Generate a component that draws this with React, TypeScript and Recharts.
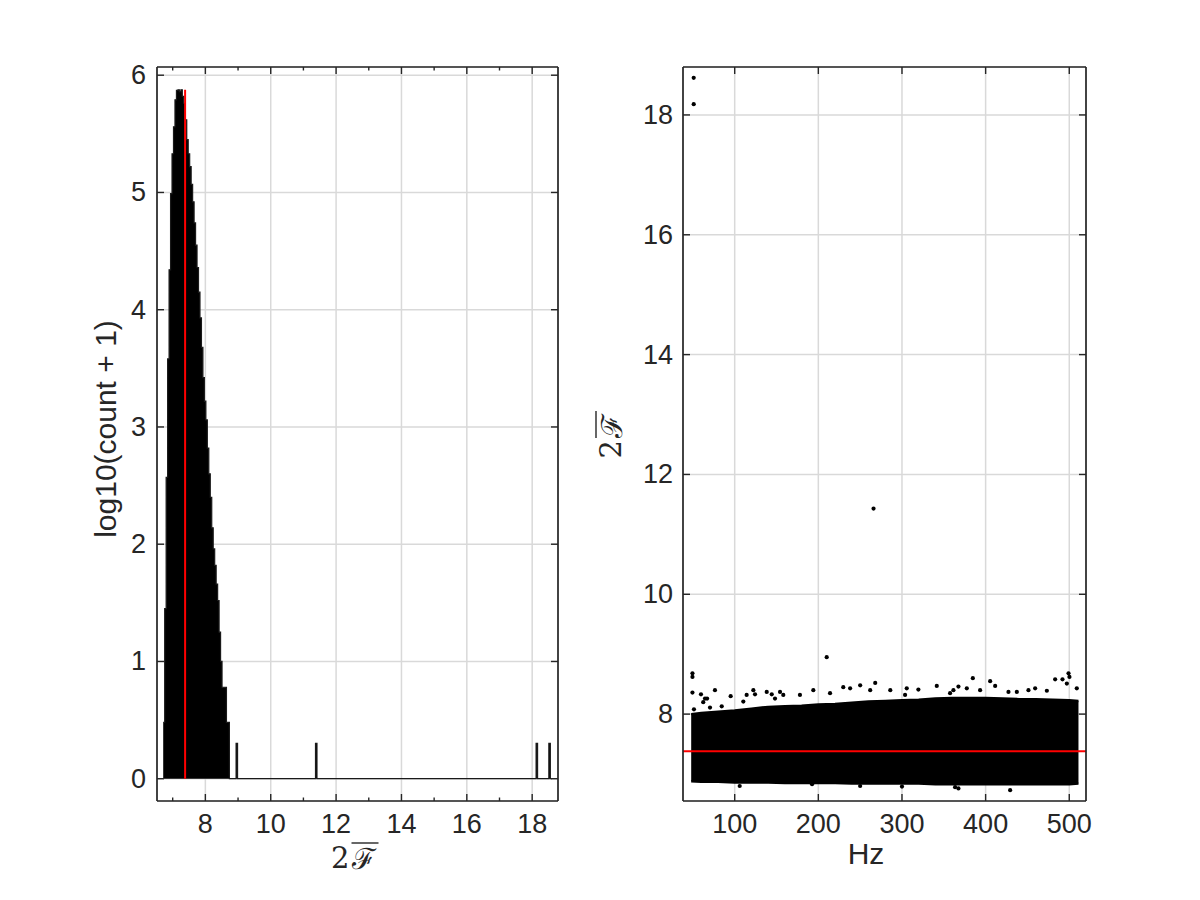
import { Area, CartesianGrid, ComposedChart, ReferenceLine, Scatter, XAxis, YAxis } from 'recharts';

// left panel: histogram of 2F, log10(count + 1), bins given by left edge
const histEdges = [
  6.71, 6.755, 6.8, 6.845, 6.89, 6.935, 6.98, 7.025, 7.07, 7.115,
  7.16, 7.205, 7.25, 7.295, 7.34, 7.385, 7.43, 7.475, 7.52, 7.565,
  7.61, 7.655, 7.7, 7.745, 7.79, 7.835, 7.88, 7.925, 7.97, 8.015,
  8.06, 8.105, 8.15, 8.195, 8.24, 8.285, 8.33, 8.375, 8.42, 8.465,
  8.51, 8.555, 8.6, 8.645, 8.69, 8.735,
  8.94, 8.985, 11.37, 11.415, 18.12, 18.165, 18.51, 18.555, 18.6,
];
const histLog = [
  0.48, 1.45, 2.57, 3.58, 4.34, 4.99, 5.33, 5.56, 5.79, 5.87,
  5.875, 5.86, 5.875, 5.82, 5.76, 5.62, 5.45, 5.33, 5.22, 5.07,
  4.92, 4.74, 4.55, 4.36, 4.15, 3.93, 3.68, 3.42, 3.22, 3.06,
  2.82, 2.6, 2.4, 2.14, 1.96, 1.82, 1.66, 1.52, 1.25, 1.0,
  0.78, 0.78, 0.78, 0.48, 0.48, 0,
  0.301, 0, 0.301, 0, 0.301, 0, 0.301, 0, 0,
];

const threshold = 7.38;

// right panel: the dense cloud of 2F against frequency, as its lower/upper envelope
const bandHz = [48, 60, 80, 100, 120, 140, 160, 180, 200, 220, 240, 260, 280, 300, 320, 340, 360, 380, 400, 420, 440, 460, 480, 500, 511];
const bandLow = [6.88, 6.87, 6.87, 6.86, 6.86, 6.86, 6.85, 6.85, 6.85, 6.85, 6.84, 6.84, 6.84, 6.84, 6.84, 6.83, 6.83, 6.83, 6.83, 6.83, 6.83, 6.83, 6.83, 6.83, 6.84];
const bandHigh = [8.0, 8.02, 8.04, 8.06, 8.09, 8.12, 8.13, 8.14, 8.16, 8.17, 8.19, 8.21, 8.22, 8.23, 8.24, 8.26, 8.27, 8.27, 8.27, 8.26, 8.25, 8.25, 8.24, 8.23, 8.22];

// points that stand out of the cloud
const outHz = [
  51, 51, 266, 210,
  49.5, 49.5, 49.5, 59.7, 64.5, 67, 62.4, 76.4, 95.2, 51.3, 70.5, 114.3, 122.3, 124.3, 138.3, 144.3,
  148.2, 154.2, 158.1, 110.3, 84.5, 178, 194, 214, 229.8, 238, 250, 262, 268, 286, 303.7,
  305.7, 319.6, 341.6, 357.5, 361.5, 367.5, 377.5, 384.7, 393.4, 405.4, 411.4, 427.3, 437.3, 451.2,
  459.2, 473.2, 483.1, 491.9, 497.1, 499.1, 500.2, 509,
  106, 192.5, 363.5, 367.5, 429.3, 300, 250,
];
const out2F = [
  18.62, 18.18, 11.43, 8.95,
  8.68, 8.62, 8.36, 8.33, 8.26, 8.26, 8.2, 8.4, 8.3, 8.08, 8.11, 8.32, 8.4, 8.33, 8.37, 8.33,
  8.26, 8.37, 8.32, 8.21, 8.13, 8.32, 8.4, 8.35, 8.45, 8.43, 8.48, 8.4, 8.52, 8.4, 8.32,
  8.43, 8.41, 8.47, 8.35, 8.4, 8.46, 8.43, 8.6, 8.4, 8.55, 8.47, 8.37, 8.37, 8.4,
  8.43, 8.39, 8.58, 8.58, 8.51, 8.68, 8.62, 8.43,
  6.8, 6.83, 6.78, 6.76, 6.73, 6.79, 6.8,
];

const histTicks = [8, 10, 12, 14, 16, 18];
const histMinorTicks = [7, 8, 9, 10, 11, 12, 13, 14, 15, 16, 17, 18];
const countTicks = [0, 1, 2, 3, 4, 5, 6];
const hzTicks = [100, 200, 300, 400, 500];
const fTicks = [8, 10, 12, 14, 16, 18];

const histRows = histEdges.map((x, i) => ({ x, v: histLog[i] }));
const bandRows = bandHz.map((hz, i) => ({ hz, range: [bandLow[i], bandHigh[i]] }));
const outRows = outHz.map((hz, i) => ({ hz, v: out2F[i] }));
const histPeak = Math.max(...histLog);

const INK = '#262626';
const GRID = '#d9d9d9';
const SANS = "'Liberation Sans', Arial, Helvetica, sans-serif";
const SERIF = "'DejaVu Serif', 'Liberation Serif', serif";
const PLOT_H = 734;

// MATLAB style box: ticks point inwards on all four sides
function topFrameTick(major: number[]) {
  return (p: any) => {
    const len = major.includes(p.payload.value) ? 7 : 3.5;
    return (
      <g>
        <line x1={p.x} x2={p.x} y1={p.y} y2={p.y + len} stroke={INK} strokeWidth={1.4} />
        <line x1={p.x} x2={p.x} y1={p.y + PLOT_H} y2={p.y + PLOT_H - len} stroke={INK} strokeWidth={1.4} />
      </g>
    );
  };
}

function rightFrameTick(plotW: number) {
  return (p: any) => (
    <g>
      <line x1={p.x} x2={p.x - 7} y1={p.y} y2={p.y} stroke={INK} strokeWidth={1.4} />
      <line x1={p.x - plotW} x2={p.x - plotW + 7} y1={p.y} y2={p.y} stroke={INK} strokeWidth={1.4} />
    </g>
  );
}

const bottomLabel = (p: any) => (
  <text x={p.x} y={p.y} textAnchor="middle" dominantBaseline="central" fill={INK} fontSize={27} fontFamily={SANS}>
    {p.payload.value}
  </text>
);

const leftLabel = (p: any) => (
  <text x={p.x} y={p.y} textAnchor="end" dominantBaseline="central" fill={INK} fontSize={27} fontFamily={SANS}>
    {p.payload.value}
  </text>
);

// 2 F-bar title, drawn in its own frame and optionally turned upright
function TwoF({ x, y, rotate }: { x: number; y: number; rotate?: boolean }) {
  return (
    <g transform={rotate ? `rotate(-90, ${x}, ${y})` : undefined} fill={INK}>
      <text x={x - 8} y={y} textAnchor="end" dominantBaseline="central" fontSize={29} fontFamily={SERIF}>
        2
      </text>
      <text x={x - 6} y={y + 1} textAnchor="start" dominantBaseline="central" fontSize={29} fontFamily={SERIF}>
        ℱ
      </text>
      <line x1={x - 6} x2={x + 21} y1={y - 15} y2={y - 15} stroke={INK} strokeWidth={1.4} />
    </g>
  );
}

const axisLine = { stroke: INK, strokeWidth: 1.7 };

function HistPanel() {
  return (
    <ComposedChart width={600} height={900} data={histRows} margin={{ top: 66, right: 41, bottom: 39, left: 97 }}>
      <XAxis
        xAxisId="b"
        dataKey="x"
        type="number"
        domain={[6.52, 18.79]}
        allowDataOverflow
        ticks={histTicks}
        interval={0}
        height={60}
        tickSize={0}
        tickMargin={23}
        axisLine={axisLine}
        tickLine={false}
        tick={bottomLabel}
        label={{ content: (p: any) => <TwoF x={p.viewBox.x + p.viewBox.width / 2} y={p.viewBox.y + 57} /> }}
      />
      <XAxis
        xAxisId="t"
        orientation="top"
        dataKey="x"
        type="number"
        domain={[6.52, 18.79]}
        allowDataOverflow
        ticks={histMinorTicks}
        interval={0}
        height={1}
        tickSize={0}
        tickMargin={0}
        axisLine={axisLine}
        tickLine={false}
        tick={topFrameTick(histTicks)}
      />
      <YAxis
        yAxisId="l"
        type="number"
        domain={[-0.19, 6.07]}
        allowDataOverflow
        ticks={countTicks}
        interval={0}
        width={60}
        tickSize={0}
        tickMargin={11}
        axisLine={axisLine}
        tickLine={false}
        tick={leftLabel}
        label={{
          content: (p: any) => {
            const cx = p.viewBox.x + 8;
            const cy = 429;
            return (
              <text x={cx} y={cy} textAnchor="middle" dominantBaseline="central" fill={INK} fontSize={30} fontFamily={SANS} transform={`rotate(-90, ${cx}, ${cy})`}>
                log10(count + 1)
              </text>
            );
          },
        }}
      />
      <YAxis
        yAxisId="r"
        orientation="right"
        type="number"
        domain={[-0.19, 6.07]}
        allowDataOverflow
        ticks={countTicks}
        interval={0}
        width={1}
        tickSize={0}
        tickMargin={0}
        axisLine={axisLine}
        tickLine={false}
        tick={rightFrameTick(401)}
      />
      <CartesianGrid xAxisId="b" yAxisId="l" stroke={GRID} strokeWidth={1.5} />
      <Area
        xAxisId="b"
        yAxisId="l"
        type="stepAfter"
        dataKey="v"
        baseValue={0}
        fill="#000"
        fillOpacity={1}
        stroke="#1a1a1a"
        strokeWidth={1.2}
        dot={false}
        activeDot={false}
        isAnimationActive={false}
      />
      <ReferenceLine
        xAxisId="b"
        yAxisId="l"
        segment={[{ x: threshold, y: 0 }, { x: threshold, y: histPeak }]}
        stroke="#ff0000"
        strokeWidth={2}
      />
    </ComposedChart>
  );
}

const dot = (p: any) => <circle cx={p.cx} cy={p.cy} r={2.1} fill="#000" />;

function ScatterPanel() {
  return (
    <ComposedChart width={660} height={900} data={bandRows} margin={{ top: 66, right: 113, bottom: 39, left: 83 }}>
      <XAxis
        xAxisId="b"
        dataKey="hz"
        type="number"
        domain={[38.2, 520]}
        allowDataOverflow
        ticks={hzTicks}
        interval={0}
        height={60}
        tickSize={0}
        tickMargin={23}
        axisLine={axisLine}
        tickLine={false}
        tick={bottomLabel}
        label={{
          content: () => (
            <text x={326} y={853} textAnchor="middle" dominantBaseline="central" fill={INK} fontSize={30} fontFamily={SANS}>
              Hz
            </text>
          ),
        }}
      />
      <XAxis
        xAxisId="t"
        orientation="top"
        dataKey="hz"
        type="number"
        domain={[38.2, 520]}
        allowDataOverflow
        ticks={hzTicks}
        interval={0}
        height={1}
        tickSize={0}
        tickMargin={0}
        axisLine={axisLine}
        tickLine={false}
        tick={topFrameTick(hzTicks)}
      />
      <YAxis
        yAxisId="l"
        dataKey="v"
        type="number"
        domain={[6.55, 18.8]}
        allowDataOverflow
        ticks={fTicks}
        interval={0}
        width={60}
        tickSize={0}
        tickMargin={10}
        axisLine={axisLine}
        tickLine={false}
        tick={leftLabel}
        label={{ content: (p: any) => <TwoF x={p.viewBox.x - 12} y={432} rotate /> }}
      />
      <YAxis
        yAxisId="r"
        orientation="right"
        type="number"
        domain={[6.55, 18.8]}
        allowDataOverflow
        ticks={fTicks}
        interval={0}
        width={1}
        tickSize={0}
        tickMargin={0}
        axisLine={axisLine}
        tickLine={false}
        tick={rightFrameTick(403)}
      />
      <CartesianGrid xAxisId="b" yAxisId="l" stroke={GRID} strokeWidth={1.5} />
      <Area
        xAxisId="b"
        yAxisId="l"
        type="linear"
        dataKey="range"
        fill="#000"
        fillOpacity={1}
        stroke="#000"
        strokeWidth={2.5}
        dot={false}
        activeDot={false}
        isAnimationActive={false}
      />
      <Scatter xAxisId="b" yAxisId="l" data={outRows} dataKey="v" shape={dot} isAnimationActive={false} />
      <ReferenceLine xAxisId="b" yAxisId="l" y={threshold} stroke="#ff0000" strokeWidth={2} />
    </ComposedChart>
  );
}

export default function App() {
  return (
    <div style={{ position: 'absolute', left: 0, top: 0, width: 1200, height: 900, background: '#fff' }}>
      <div style={{ position: 'absolute', left: 0, top: 0 }}>
        <HistPanel />
      </div>
      <div style={{ position: 'absolute', left: 540, top: 0 }}>
        <ScatterPanel />
      </div>
    </div>
  );
}
